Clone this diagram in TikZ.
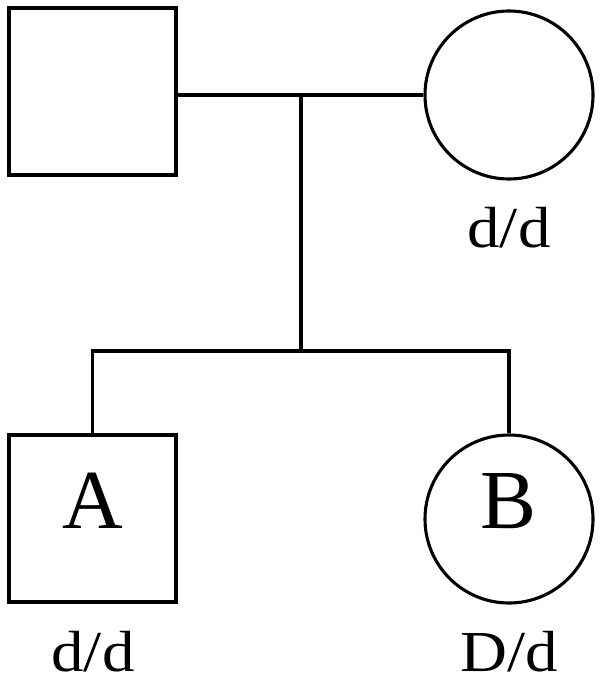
\documentclass[tikz,border=0pt]{standalone}
\usepackage{fontspec}
\setmainfont{Liberation Serif}
\begin{document}
\begin{tikzpicture}[x=1pt,y=-1pt,
  male/.style={draw,line width=3.3pt,rectangle,minimum size=167pt,inner sep=0pt},
  female/.style={draw,line width=3.1pt,circle,minimum size=168pt,inner sep=0pt},
  line/.style={line width=3.1pt},
  big/.style={font=\fontsize{84}{90}\selectfont,anchor=base,inner sep=0pt},
  geno/.style={font=\fontsize{58}{62}\selectfont,anchor=base,inner sep=0pt}]
\useasboundingbox (0,0) rectangle (602,690);
\node[male] (father) at (92.5,91.5) {};
\node[female] (mother) at (509,95) {};
\coordinate (mid) at (301,95);
\coordinate (sib) at (301,351);
\node[male] (A) at (92.5,518.5) {};
\node[female] (B) at (509,519) {};
\node[big] (Al) at (92.5,528) {A};
\node[big] (Bl) at (509,528) {B};
\node[geno] (gm) at (509,247) {\scalebox{1.12}[1]{d/d}};
\node[geno] (gA) at (93,671) {\scalebox{1.12}[1]{d/d}};
\node[geno] (gB) at (509,671) {\scalebox{1.12}[1]{D/d}};
\draw[line] (father.east |- mid) -- (mother.west |- mid);
\draw[line] (mid) -- (sib);
\draw[line] (A.north) |- (sib) -| (B.north);
\end{tikzpicture}
\end{document}
